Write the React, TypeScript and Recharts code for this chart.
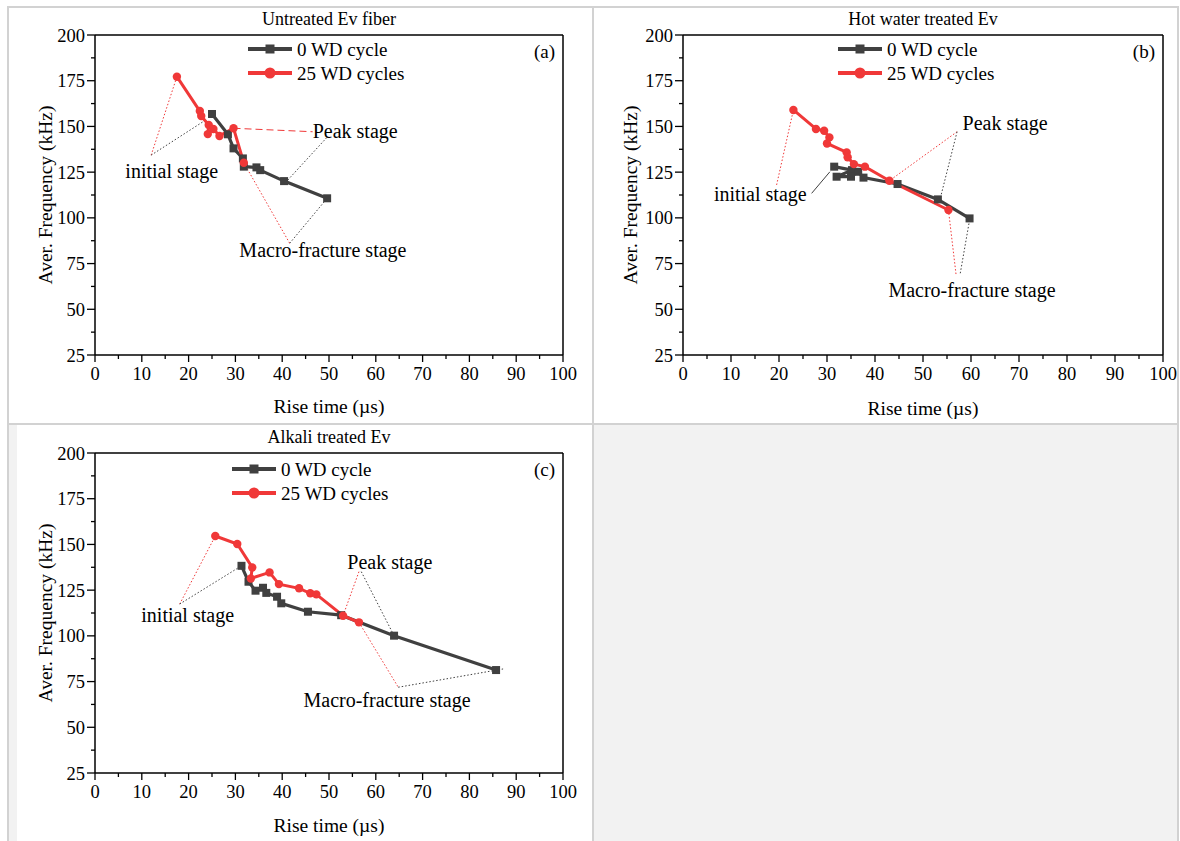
import React from 'react';
import { LineChart, Line, XAxis, YAxis, ReferenceLine, ReferenceDot, Legend } from 'recharts';

const FONT = '"Liberation Serif", "Times New Roman", Times, serif';
const GRAY = '#404040';
const RED = '#f03838';

// ---------- tick labels ----------
const X_TICKS = [0, 5, 10, 15, 20, 25, 30, 35, 40, 45, 50, 55, 60, 65, 70, 75, 80, 85, 90, 95, 100];
const Y_TICKS = [25, 37.5, 50, 62.5, 75, 87.5, 100, 112.5, 125, 137.5, 150, 162.5, 175, 187.5, 200];
const SERIES_NAMES = ['0 WD cycle', '25 WD cycles'];

// ---------- (a) Untreated Ev fiber ----------
const untreatedRise0 = [25.0, 28.4, 29.6, 31.6, 31.8, 34.5, 35.3, 40.4, 49.6];
const untreatedFreq0 = [156.8, 145.7, 138.0, 132.5, 128.0, 127.6, 126.1, 120.1, 110.7];
const untreatedRise25 = [17.5, 22.4, 22.7, 24.3, 24.1, 25.3, 26.6, 29.6, 31.8];
const untreatedFreq25 = [177.2, 158.4, 155.7, 150.8, 145.8, 148.6, 144.8, 149.0, 130.1];

// ---------- (b) Hot water treated Ev ----------
const hotRise0 = [31.5, 35.2, 32.0, 35.0, 36.5, 37.6, 44.7, 53.1, 59.7];
const hotFreq0 = [128.0, 126.1, 122.5, 122.5, 125.2, 122.0, 118.5, 110.1, 99.7];
const hotRise25 = [23.0, 27.7, 29.4, 30.5, 30.0, 34.1, 34.3, 35.6, 37.9, 43.0, 55.3];
const hotFreq25 = [159.0, 148.6, 147.6, 144.0, 140.7, 135.8, 133.1, 129.4, 128.0, 120.3, 104.3];

// ---------- (c) Alkali treated Ev ----------
const alkaliRise0 = [31.3, 32.8, 34.3, 35.9, 36.6, 38.9, 39.8, 45.5, 52.6, 63.9, 85.7];
const alkaliFreq0 = [138.3, 129.6, 124.7, 126.3, 123.5, 121.4, 117.8, 113.2, 111.3, 100.1, 81.3];
const alkaliRise25 = [25.7, 30.4, 33.6, 33.3, 37.3, 39.3, 43.6, 46.0, 47.3, 53.0, 56.4];
const alkaliFreq25 = [154.6, 150.2, 137.4, 131.4, 134.7, 128.3, 126.0, 123.3, 122.7, 111.0, 107.4];

type Pt = { x: number; y: number };
const zip = (xs: number[], ys: number[]): Pt[] => xs.map((x, i) => ({ x, y: ys[i] }));

// annotation leader lines (data coordinates) and stage labels
type Seg = { p: [number, number, number, number]; color: string; dash: string };
type Note = { x: number; y: number; text: string };

const untreatedSegs: Seg[] = [
  { p: [12.0, 134.3, 17.5, 177.2], color: RED, dash: '1.5 2' },
  { p: [12.0, 134.3, 23.1, 152.6], color: GRAY, dash: '1.5 2' },
  { p: [29.6, 149.0, 46.5, 147.1], color: RED, dash: '7 4' },
  { p: [41.2, 120.7, 49.7, 144.4], color: GRAY, dash: '1.5 2' },
  { p: [31.8, 130.1, 41.6, 86.1], color: RED, dash: '1.5 2' },
  { p: [41.6, 86.1, 49.6, 110.7], color: GRAY, dash: '1.5 2' },
];
const untreatedNotes: Note[] = [
  { x: 16.4, y: 125.6, text: 'initial stage' },
  { x: 55.6, y: 147.5, text: 'Peak stage' },
  { x: 48.7, y: 82.4, text: 'Macro-fracture stage' },
];

const hotSegs: Seg[] = [
  { p: [19.5, 118.0, 23.0, 159.0], color: RED, dash: '1.5 2' },
  { p: [26.8, 113.4, 30.6, 125.2], color: GRAY, dash: '' },
  { p: [57.1, 147.1, 43.0, 120.3], color: RED, dash: '1.5 2' },
  { p: [57.1, 147.1, 53.6, 110.7], color: GRAY, dash: '1.5 2' },
  { p: [55.3, 104.3, 56.9, 68.7], color: RED, dash: '1.5 2' },
  { p: [59.7, 98.8, 57.7, 68.7], color: GRAY, dash: '1.5 2' },
];
const hotNotes: Note[] = [
  { x: 16.1, y: 113.0, text: 'initial stage' },
  { x: 67.1, y: 151.8, text: 'Peak stage' },
  { x: 60.2, y: 60.5, text: 'Macro-fracture stage' },
];

const alkaliSegs: Seg[] = [
  { p: [18.1, 117.4, 25.7, 154.6], color: RED, dash: '1.5 2' },
  { p: [18.1, 117.4, 31.3, 138.3], color: GRAY, dash: '1.5 2' },
  { p: [56.4, 135.1, 53.0, 111.0], color: RED, dash: '1.5 2' },
  { p: [56.9, 135.1, 63.9, 100.1], color: GRAY, dash: '1.5 2' },
  { p: [56.4, 107.4, 64.8, 71.9], color: RED, dash: '1.5 2' },
  { p: [64.8, 71.9, 87.2, 81.9], color: GRAY, dash: '1.5 2' },
];
const alkaliNotes: Note[] = [
  { x: 19.8, y: 111.4, text: 'initial stage' },
  { x: 63.0, y: 140.4, text: 'Peak stage' },
  { x: 62.4, y: 64.9, text: 'Macro-fracture stage' },
];

const TXT = { fontFamily: FONT, fill: '#000' };

// ---------- ticks ----------
function XTick(props: any) {
  const { x, y, payload } = props;
  const major = payload.value % 10 === 0;
  return (
    <g>
      <line x1={x} x2={x} y1={y} y2={y + (major ? 7 : 4)} stroke="#000" strokeWidth={1.3} />
      {major && (
        <text x={x} y={y + 25} textAnchor="middle" style={{ ...TXT, fontSize: 18.5 }}>
          {payload.value}
        </text>
      )}
    </g>
  );
}

function YTick(props: any) {
  const { x, y, payload } = props;
  const major = payload.value % 25 === 0;
  return (
    <g>
      <line x1={x - (major ? 8 : 4)} x2={x} y1={y} y2={y} stroke="#000" strokeWidth={1.3} />
      {major && (
        <text x={x - 10} y={y + 6.5} textAnchor="end" style={{ ...TXT, fontSize: 18.5 }}>
          {payload.value}
        </text>
      )}
    </g>
  );
}

const SquareDot = (p: any) => (
  <rect key={p.key} x={p.cx - 4} y={p.cy - 4} width={8} height={8} fill={GRAY} />
);
const CircleDot = (p: any) => <circle key={p.key} cx={p.cx} cy={p.cy} r={4.2} fill={RED} />;

function LegendContent(props: any) {
  const items = props.payload || [];
  return (
    <svg width={180} height={48} style={{ display: 'block', overflow: 'visible' }}>
      {items.map((it: any, i: number) => {
        const cy = 10 + i * 24;
        const color = it.color;
        return (
          <g key={i}>
            <line x1={0} x2={44} y1={cy} y2={cy} stroke={color} strokeWidth={4} />
            {i === 0 ? (
              <rect x={17.5} y={cy - 4.5} width={9} height={9} fill={color} />
            ) : (
              <circle cx={22} cy={cy} r={5.5} fill={color} />
            )}
            <text x={49} y={cy + 6.5} style={{ ...TXT, fontSize: 19 }}>
              {it.value}
            </text>
          </g>
        );
      })}
    </svg>
  );
}

type PanelCfg = {
  left: number;
  top: number;
  width: number;
  height: number;
  margin: { top: number; right: number; left: number; bottom: number };
  title: string;
  tag: string;
  s0: Pt[];
  s25: Pt[];
  segs: Seg[];
  notes: Note[];
  legend: { left: number; top: number };
  xLabelDy: number;
  yLabelDx: number;
};

const Y_W = 60;
const X_H = 30;

function Panel({ cfg }: { cfg: PanelCfg }) {
  const { width, height, margin } = cfg;
  const plotL = margin.left + Y_W;
  const plotR = width - margin.right;
  const plotT = margin.top;
  const plotB = height - margin.bottom - X_H;
  const midX = (plotL + plotR) / 2;
  const midY = (plotT + plotB) / 2;
  return (
    <div style={{ position: 'absolute', left: cfg.left, top: cfg.top, width, height }}>
      <div
        style={{
          position: 'absolute',
          left: midX - 150,
          width: 300,
          top: plotT - 26,
          textAlign: 'center',
          fontFamily: FONT,
          fontSize: 18,
          lineHeight: '20px',
          color: '#000',
          whiteSpace: 'nowrap',
        }}
      >
        {cfg.title}
      </div>
      <div
        style={{
          position: 'absolute',
          left: plotR - 80,
          width: 72,
          top: plotT + 6,
          textAlign: 'right',
          fontFamily: FONT,
          fontSize: 19,
          lineHeight: '22px',
          color: '#000',
          zIndex: 2,
        }}
      >
        {cfg.tag}
      </div>
      <LineChart width={width} height={height} margin={margin} style={{ fontFamily: FONT }}>
        <XAxis
          dataKey="x"
          type="number"
          domain={[0, 100]}
          ticks={X_TICKS}
          interval={0}
          height={X_H}
          tickSize={0}
          tickMargin={0}
          tickLine={false}
          tick={<XTick />}
          axisLine={{ stroke: '#000', strokeWidth: 1.5 }}
          label={{
            content: () => (
              <text
                x={midX}
                y={plotB + cfg.xLabelDy + 7}
                textAnchor="middle"
                style={{ ...TXT, fontSize: 19.5 }}
              >
                Rise time (µs)
              </text>
            ),
          }}
        />
        <YAxis
          type="number"
          domain={[25, 200]}
          ticks={Y_TICKS}
          interval={0}
          width={Y_W}
          tickSize={0}
          tickMargin={0}
          tickLine={false}
          tick={<YTick />}
          axisLine={{ stroke: '#000', strokeWidth: 1.5 }}
          label={{
            content: () => {
              const cx = plotL - cfg.yLabelDx;
              return (
                <text
                  x={cx}
                  y={midY}
                  transform={`rotate(-90 ${cx} ${midY})`}
                  textAnchor="middle"
                  dominantBaseline="central"
                  style={{ ...TXT, fontSize: 19.5 }}
                >
                  Aver. Frequency (kHz)
                </text>
              );
            },
          }}
        />
        <ReferenceLine y={200} stroke="#000" strokeWidth={1.5} />
        <ReferenceLine x={100} stroke="#000" strokeWidth={1.5} />
        {cfg.segs.map((s, i) => (
          <ReferenceLine
            key={'s' + i}
            segment={[
              { x: s.p[0], y: s.p[1] },
              { x: s.p[2], y: s.p[3] },
            ]}
            stroke={s.color}
            strokeWidth={1}
            strokeDasharray={s.dash || undefined}
          />
        ))}
        {cfg.notes.map((n, i) => (
          <ReferenceDot
            key={'n' + i}
            x={n.x}
            y={n.y}
            r={0}
            shape={(p: any) => (
              <text
                x={p.cx}
                y={p.cy}
                textAnchor="middle"
                dominantBaseline="central"
                style={{ ...TXT, fontSize: 20 }}
              >
                {n.text}
              </text>
            )}
          />
        ))}
        <Line
          data={cfg.s0}
          dataKey="y"
          name={SERIES_NAMES[0]}
          stroke={GRAY}
          strokeWidth={3.2}
          dot={SquareDot}
          activeDot={false}
          isAnimationActive={false}
        />
        <Line
          data={cfg.s25}
          dataKey="y"
          name={SERIES_NAMES[1]}
          stroke={RED}
          strokeWidth={3}
          dot={CircleDot}
          activeDot={false}
          isAnimationActive={false}
        />
        <Legend
          layout="vertical"
          align="center"
          verticalAlign="middle"
          wrapperStyle={{ left: cfg.legend.left, top: cfg.legend.top, width: 'auto' }}
          content={<LegendContent />}
        />
      </LineChart>
    </div>
  );
}

const panels: PanelCfg[] = [
  {
    left: 8,
    top: 7,
    width: 585,
    height: 417,
    margin: { top: 28, right: 30, left: 27, bottom: 39 },
    title: 'Untreated Ev fiber',
    tag: '(a)',
    s0: zip(untreatedRise0, untreatedFreq0),
    s25: zip(untreatedRise25, untreatedFreq25),
    segs: untreatedSegs,
    notes: untreatedNotes,
    legend: { left: 240, top: 32 },
    xLabelDy: 51,
    yLabelDx: 50,
  },
  {
    left: 593,
    top: 7,
    width: 584,
    height: 417,
    margin: { top: 28, right: 14, left: 30, bottom: 39 },
    title: 'Hot water treated Ev',
    tag: '(b)',
    s0: zip(hotRise0, hotFreq0),
    s25: zip(hotRise25, hotFreq25),
    segs: hotSegs,
    notes: hotNotes,
    legend: { left: 245, top: 32 },
    xLabelDy: 53,
    yLabelDx: 53,
  },
  {
    left: 8,
    top: 424,
    width: 585,
    height: 417,
    margin: { top: 29, right: 30, left: 27, bottom: 38 },
    title: 'Alkali treated Ev',
    tag: '(c)',
    s0: zip(alkaliRise0, alkaliFreq0),
    s25: zip(alkaliRise25, alkaliFreq25),
    segs: alkaliSegs,
    notes: alkaliNotes,
    legend: { left: 224, top: 35 },
    xLabelDy: 52,
    yLabelDx: 50,
  },
];

const BORDER = '#d2d2d2';

export default function App() {
  return (
    <div
      style={{
        position: 'absolute',
        left: 0,
        top: 0,
        width: 1180,
        height: 841,
        overflow: 'hidden',
        background: '#fff',
        fontFamily: FONT,
      }}
    >
      {/* table cell backgrounds */}
      <div style={{ position: 'absolute', left: 594, top: 425, width: 583, height: 416, background: '#f2f2f2' }} />
      <div style={{ position: 'absolute', left: 9, top: 425, width: 8, height: 416, background: '#f2f2f2' }} />
      {panels.map((p, i) => (
        <Panel key={i} cfg={p} />
      ))}
      {/* table borders */}
      <div style={{ position: 'absolute', left: 7, top: 6, width: 1171, height: 2, background: BORDER }} />
      <div style={{ position: 'absolute', left: 7, top: 423, width: 1171, height: 2, background: BORDER }} />
      <div style={{ position: 'absolute', left: 7, top: 6, width: 2, height: 835, background: BORDER }} />
      <div style={{ position: 'absolute', left: 592, top: 6, width: 2, height: 835, background: BORDER }} />
      <div style={{ position: 'absolute', left: 1177, top: 6, width: 2, height: 835, background: BORDER }} />
    </div>
  );
}
